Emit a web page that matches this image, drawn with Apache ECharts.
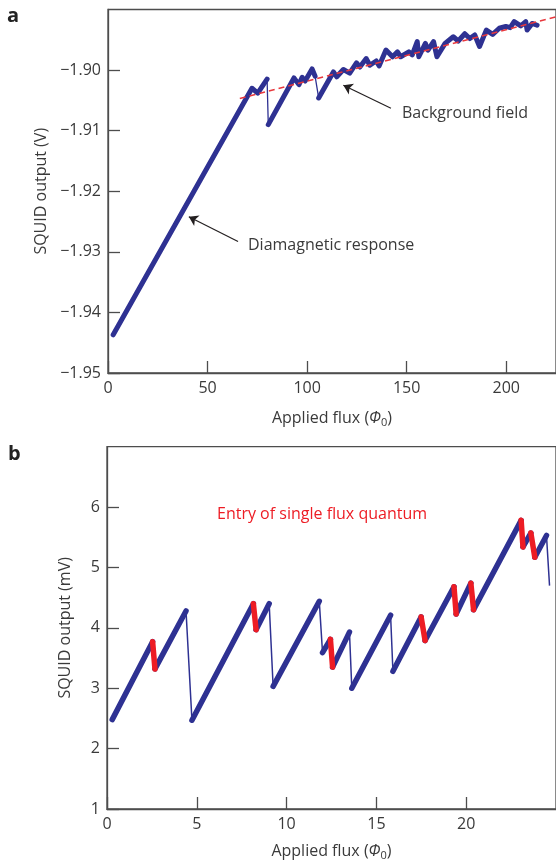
<!DOCTYPE html>
<html>
<head>
<meta charset="utf-8">
<script src="https://cdn.jsdelivr.net/npm/echarts@6/dist/echarts.min.js"></script>
<style>
  html, body { margin: 0; padding: 0; background: #fff; }
  #chart { width: 556px; height: 862px; }
</style>
</head>
<body>
<div id="chart"></div>
<script>
// panel a: SQUID output (V) vs applied flux (Phi0), vertices
const fluxA = [2.6, 72.3, 75.2, 79.9, 80.5, 93.4, 95.9, 97.5, 99.0, 102.5, 104.0, 105.8,
  113.2, 114.9, 118.2, 121.4, 124.8, 126.5, 129.7, 131.5, 134.7, 136.2, 139.6, 142.9,
  145.4, 147.0, 151.1, 152.8, 155.3, 156.1, 159.4, 160.7, 163.5, 165.2, 169.3, 173.4,
  175.9, 179.2, 181.7, 184.2, 186.6, 190.0, 193.2, 196.5, 199.8, 202.0, 204.0, 207.3,
  209.8, 210.5, 213.0, 215.5];
const squidA = [-1.9437, -1.9030, -1.9038, -1.9015, -1.9090, -1.9013, -1.9024, -1.9012, -1.9018, -1.8998, -1.9010, -1.9046,
  -1.9003, -1.9011, -1.8999, -1.9005, -1.8988, -1.8995, -1.8981, -1.8992, -1.8985, -1.8993, -1.8967, -1.8978,
  -1.8970, -1.8978, -1.8970, -1.8975, -1.8953, -1.8978, -1.8956, -1.8967, -1.8953, -1.8978, -1.8956, -1.8945,
  -1.8952, -1.8940, -1.8948, -1.8942, -1.8961, -1.8934, -1.8941, -1.8931, -1.8928, -1.8930, -1.8920, -1.8927,
  -1.8920, -1.8934, -1.8923, -1.8926];
// points reached by a thin (fast) jump
const thinA = [4, 11];
// background field trend
const bgFlux = [66.2, 225];
const bgSquid = [-1.9047, -1.8912];

// panel b: SQUID output (mV) vs applied flux (Phi0)
const fluxB = [0.29, 2.54, 2.67, 4.40, 4.73, 8.15, 8.30, 9.03, 9.25, 11.82, 12.00, 12.44, 12.56,
  13.50, 13.63, 15.79, 15.92, 17.49, 17.71, 19.32, 19.44, 20.26, 20.41, 23.06, 23.16, 23.60, 23.82,
  24.47, 24.64];
const squidB = [2.48, 3.77, 3.32, 4.28, 2.47, 4.40, 3.97, 4.40, 3.03, 4.44, 3.59, 3.81, 3.35,
  3.93, 3.00, 4.21, 3.28, 4.18, 3.79, 4.68, 4.23, 4.74, 4.30, 5.78, 5.34, 5.57, 5.17,
  5.53, 4.70];
const thinB = [4, 8, 10, 14, 16, 28];
// single flux quantum entries (segment ending at these points)
const redB = [2, 6, 12, 18, 20, 22, 24, 26];

const ticksA = { x: [0, 225, 50], y: [-1.95, -1.89, 0.01] };
const ticksB = { x: [0, 25, 5], y: [1, 7, 1] };

const NAVY = '#2e3192';
const RED = '#ed1c24';
const INK = '#3a3a3a';
const FONT = 'Open Sans';

// pick segments (i-1 -> i) and join them with gaps
function segs(xs, ys, keep) {
  const out = [];
  let last = -1;
  for (let i = 1; i < xs.length; i++) {
    if (!keep(i)) continue;
    if (last !== i - 1) {
      if (out.length) out.push(['-', '-']);
      out.push([xs[i - 1], ys[i - 1]]);
    }
    out.push([xs[i], ys[i]]);
    last = i;
  }
  return out;
}

function xAxisOf(idx, t, nameGap) {
  return {
    type: 'value', gridIndex: idx, min: t[0], max: t[1], interval: t[2],
    name: 'Applied flux ({phi|Φ}{sub|0})', nameLocation: 'middle', nameGap: nameGap,
    nameTextStyle: {
      color: INK, fontSize: 16, fontFamily: FONT,
      rich: {
        phi: { fontStyle: 'italic', fontSize: 16, fontFamily: FONT, color: INK },
        sub: { fontSize: 11, fontFamily: FONT, color: INK, padding: [8, 0, 0, 0] }
      }
    },
    axisLine: { lineStyle: { color: '#4d4d4d', width: 1.3 } },
    axisTick: { inside: true, length: 12, lineStyle: { color: '#4d4d4d', width: 1.3 } },
    axisLabel: { color: INK, fontSize: 16, fontFamily: FONT, margin: 7, showMaxLabel: false },
    splitLine: { show: false }
  };
}

function yAxisOf(idx, t, name, nameGap, fmt) {
  return {
    type: 'value', gridIndex: idx, min: t[0], max: t[1], interval: t[2],
    name: name, nameLocation: 'middle', nameGap: nameGap,
    nameTextStyle: { color: INK, fontSize: 16, fontFamily: FONT },
    axisLine: { lineStyle: { color: '#4d4d4d', width: 1.3 } },
    axisTick: { inside: true, length: 12, lineStyle: { color: '#4d4d4d', width: 1.3 } },
    axisLabel: { color: INK, fontSize: 16, fontFamily: FONT, margin: 7, showMaxLabel: false, formatter: fmt },
    splitLine: { show: false }
  };
}

const lineBase = { type: 'line', showSymbol: false, silent: true, animation: false };
const arrowLine = {
  silent: true, symbol: ['none', 'arrow'], symbolSize: 9,
  label: { show: false },
  lineStyle: { color: '#231f20', width: 1.2, type: 'solid' }
};

const chart = echarts.init(document.getElementById('chart'));
chart.setOption({
  backgroundColor: '#fff',
  animation: false,
  grid: [
    { left: 108, top: 9.5, right: -7, height: 363.5, show: true, borderColor: '#4d4d4d', borderWidth: 1.3 },
    { left: 107, top: 446.7, right: -7, height: 363.3, show: true, borderColor: '#4d4d4d', borderWidth: 1.3 }
  ],
  xAxis: [xAxisOf(0, ticksA.x, 36), xAxisOf(1, ticksB.x, 33)],
  yAxis: [
    yAxisOf(0, ticksA.y, 'SQUID output (V)', 58, v => '\u2212' + Math.abs(v).toFixed(2)),
    yAxisOf(1, ticksB.y, 'SQUID output (mV)', 34, v => String(v))
  ],
  series: [
    Object.assign({}, lineBase, {
      xAxisIndex: 0, yAxisIndex: 0, z: 2,
      data: fluxA.map((x, i) => [x, squidA[i]]),
      lineStyle: { color: NAVY, width: 1.3 },
      markLine: Object.assign({}, arrowLine, {
        data: [
          [{ coord: [65.3, -1.9283] }, { coord: [40.6, -1.9242] }],
          [{ coord: [142.1, -1.9063] }, { coord: [118.2, -1.9025] }]
        ]
      })
    }),
    Object.assign({}, lineBase, {
      xAxisIndex: 0, yAxisIndex: 0, z: 3,
      data: segs(fluxA, squidA, i => !thinA.includes(i)),
      lineStyle: { color: NAVY, width: 5, cap: 'round', join: 'round' }
    }),
    Object.assign({}, lineBase, {
      xAxisIndex: 0, yAxisIndex: 0, z: 4,
      data: bgFlux.map((x, i) => [x, bgSquid[i]]),
      lineStyle: { color: '#e8383d', width: 1.5, type: [6, 4] }
    }),
    Object.assign({}, lineBase, {
      xAxisIndex: 1, yAxisIndex: 1, z: 2,
      data: fluxB.map((x, i) => [x, squidB[i]]),
      lineStyle: { color: NAVY, width: 1.5 }
    }),
    Object.assign({}, lineBase, {
      xAxisIndex: 1, yAxisIndex: 1, z: 3,
      data: segs(fluxB, squidB, i => !thinB.includes(i) && !redB.includes(i)),
      lineStyle: { color: NAVY, width: 5.5, cap: 'round', join: 'round' }
    }),
    Object.assign({}, lineBase, {
      xAxisIndex: 1, yAxisIndex: 1, z: 4,
      data: segs(fluxB, squidB, i => redB.includes(i)),
      lineStyle: { color: RED, width: 5.5, cap: 'round', join: 'round' }
    })
  ],
  graphic: [
    { type: 'text', left: 7, top: 6, style: { text: 'a', font: 'bold 20px "Open Sans"', fill: '#222' } },
    { type: 'text', left: 8, top: 444, style: { text: 'b', font: 'bold 20px "Open Sans"', fill: '#222' } },
    { type: 'text', x: 248, y: 245, style: { text: 'Diamagnetic response', font: '16px "Open Sans"', fill: INK, verticalAlign: 'middle' } },
    { type: 'text', x: 402, y: 113, style: { text: 'Background field', font: '16px "Open Sans"', fill: INK, verticalAlign: 'middle' } },
    { type: 'text', x: 217, y: 514, style: { text: 'Entry of single flux quantum', font: '16px "Open Sans"', fill: RED, verticalAlign: 'middle' } }
  ]
});
</script>
</body>
</html>
